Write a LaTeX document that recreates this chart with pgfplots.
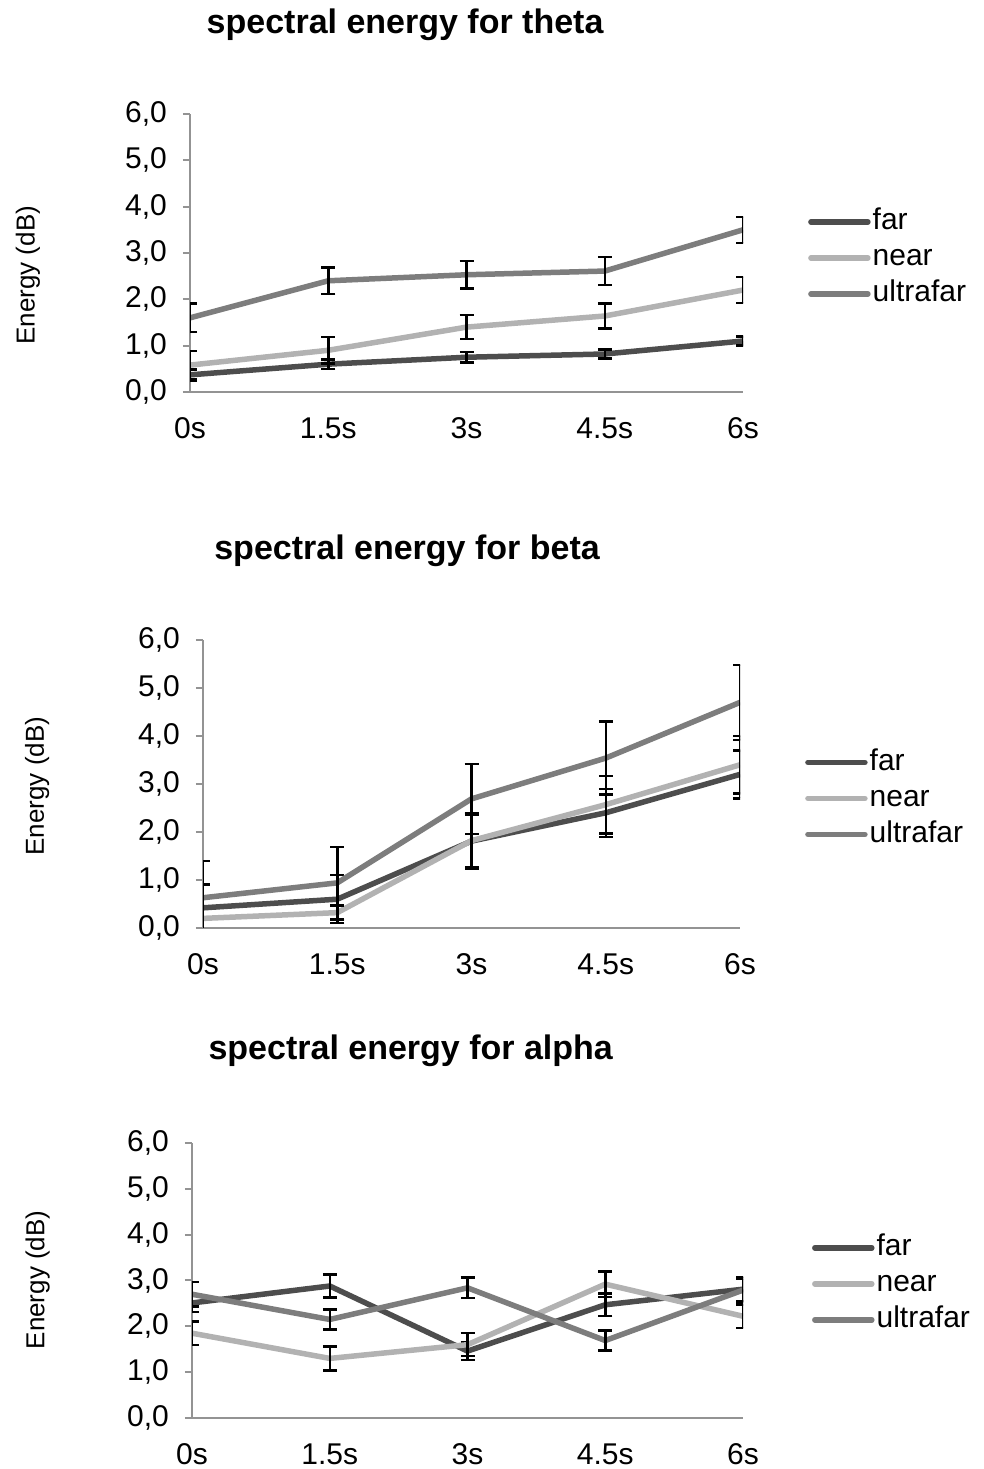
\documentclass[border=0pt]{standalone}
\usepackage{fontspec}
\setmainfont{Liberation Sans}
\usepackage{pgfplots}
\pgfplotsset{compat=1.18}

\definecolor{farc}{RGB}{77,77,77}
\definecolor{nearc}{RGB}{178,178,178}
\definecolor{ultrac}{RGB}{125,125,125}

\pgfplotsset{
  panel/.style={
    scale only axis,
    xmin=0, xmax=4, ymin=0, ymax=6,
    xtick={0,1,2,3,4},
    xticklabels={0s,1.5s,3s,4.5s,6s},
    ytick={0,1,2,3,4,5,6},
    yticklabels={{0,0},{1,0},{2,0},{3,0},{4,0},{5,0},{6,0}},
    /pgf/number format/assume math mode=true,
    axis x line=bottom, axis y line=left,
    axis line style={-, draw=gray!85, line width=2pt},
    x tick style={draw=none},
    y tick style={draw=gray!85, line width=2pt},
    tick align=outside, major tick length=7pt,
    tick label style={font=\fontsize{30}{36}\selectfont},
    yticklabel style={inner sep=0pt, xshift=-16pt},
    xticklabel style={inner sep=0pt, anchor=north, text height=21.5pt, text depth=0pt, yshift=-18pt},
    ylabel={Energy (dB)},
    ylabel style={font=\fontsize{26}{30}\selectfont, anchor=center},
    title style={font=\fontsize{34}{40}\selectfont\bfseries, anchor=center},
    legend cell align=left,
    legend style={draw=none, fill=none, inner sep=0pt, anchor=west,
      font=\fontsize{30}{36}\selectfont, row sep=4pt,
      nodes={inner sep=2pt, text height=22pt, text depth=6pt}},
    legend image code/.code={\draw[#1, line width=5.5pt, line cap=round] (0pt,0pt) -- (57pt,0pt);},
    every axis plot/.append style={line width=5.5pt, no markers,
      error bars/y dir=both, error bars/y explicit,
      error bars/error bar style={draw=black, line width=2.5pt},
      error bars/error mark options={rotate=90, mark size=7pt, draw=black, line width=2.5pt}},
  }
}

\begin{document}
\begin{tikzpicture}
\useasboundingbox (0pt,0pt) rectangle (983pt,1469pt);

% theta
\begin{axis}[panel, at={(190pt,1077pt)}, anchor=south west,
  width=553pt, height=278pt,
  title={spectral energy for theta},
  title style={at={(axis description cs:0.389,1.299)}},
  ylabel style={at={(axis description cs:-0.293,0.42)}},
  legend style={at={(axis description cs:1.1175,0.482)}}]
\addplot[farc] table[x=x, y=y, y error=e] {
x y e
0 0.37 0.12
1 0.60 0.10
2 0.75 0.11
3 0.82 0.10
4 1.10 0.10
};
\addplot[nearc] table[x=x, y=y, y error=e] {
x y e
0 0.58 0.30
1 0.90 0.29
2 1.40 0.26
3 1.64 0.27
4 2.20 0.28
};
\addplot[ultrac] table[x=x, y=y, y error=e] {
x y e
0 1.60 0.31
1 2.40 0.29
2 2.53 0.30
3 2.61 0.30
4 3.50 0.28
};
\legend{far,near,ultrafar}
\end{axis}

% beta
\begin{axis}[panel, at={(203pt,541pt)}, anchor=south west,
  width=537pt, height=288pt,
  title={spectral energy for beta},
  title style={at={(axis description cs:0.38,1.288)}},
  ylabel style={at={(axis description cs:-0.309,0.493)}},
  legend style={at={(axis description cs:1.121,0.45)}}]
\addplot[farc] table[x=x, y=y, y error=e] {
x y e
0 0.42 0.50
1 0.60 0.50
2 1.81 0.55
3 2.40 0.50
4 3.20 0.50
};
\addplot[nearc] table[x=x, y=y, y error=e] {
x y e
0 0.20 0.70
1 0.32 0.15
2 1.82 0.58
3 2.57 0.60
4 3.40 0.60
};
\addplot[ultrac] table[x=x, y=y, y error=e] {
x y e
0 0.63 0.77
1 0.94 0.75
2 2.69 0.73
3 3.54 0.76
4 4.70 0.78
};
\legend{far,near,ultrafar}
\end{axis}

% alpha
\begin{axis}[panel, at={(192pt,51pt)}, anchor=south west,
  width=551pt, height=275pt,
  title={spectral energy for alpha},
  title style={at={(axis description cs:0.397,1.312)}},
  ylabel style={at={(axis description cs:-0.28,0.502)}},
  legend style={at={(axis description cs:1.125,0.488)}}]
\addplot[farc] table[x=x, y=y, y error=e] {
x y e
0 2.51 0.20
1 2.88 0.25
2 1.46 0.20
3 2.47 0.25
4 2.81 0.27
};
\addplot[nearc] table[x=x, y=y, y error=e] {
x y e
0 1.85 0.26
1 1.30 0.26
2 1.60 0.25
3 2.92 0.28
4 2.22 0.26
};
\addplot[ultrac] table[x=x, y=y, y error=e] {
x y e
0 2.70 0.27
1 2.15 0.22
2 2.84 0.22
3 1.69 0.22
4 2.79 0.25
};
\legend{far,near,ultrafar}
\end{axis}
\end{tikzpicture}
\end{document}
